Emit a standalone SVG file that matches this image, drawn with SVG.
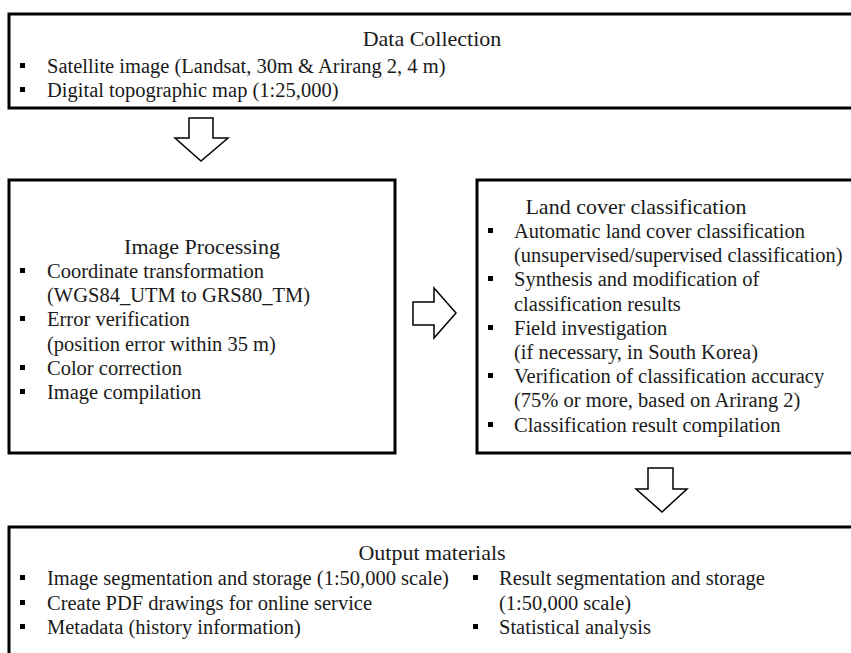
<svg xmlns="http://www.w3.org/2000/svg" width="851" height="653" viewBox="0 0 851 653">
<style>
.box{fill:#fff;stroke:#000;stroke-width:3}
.arr{fill:#fff;stroke:#000;stroke-width:1.5;stroke-linejoin:miter}
.t{font-size:22px;text-anchor:middle}
.b{font-size:20.5px}
.bl{fill:#000}
</style>
<defs><rect id="sq" width="5" height="5" class="bl"/></defs>
<rect width="851" height="653" fill="#fff"/>
<g id="connectors">
<path class="arr" d="M189,118 H213 V138 H228 L201,161 L175,138 H189 Z"/>
<path class="arr" d="M413,302 H434 V288 L456,313 L434,338 V325 H413 Z"/>
<path class="arr" d="M648,468 H673 V489 H687 L662,512 L636,489 H648 Z"/>
</g>
<g font-family="Liberation Serif, Times New Roman, DejaVu Serif, serif" fill="#1a1a1a">
<g id="data-collection">
<rect class="box" x="9" y="14" width="846" height="94"/>
<text class="t" x="432" y="46">Data Collection</text>
<use href="#sq" x="20" y="63"/><text class="b" x="47" y="73">Satellite image (Landsat, 30m &amp; Arirang 2, 4 m)</text>
<use href="#sq" x="20" y="87"/><text class="b" x="47" y="97">Digital topographic map (1:25,000)</text>
</g>
<g id="image-processing">
<rect class="box" x="9" y="180" width="386" height="273"/>
<text class="t" x="202" y="254">Image Processing</text>
<use href="#sq" x="20" y="268"/><text class="b" x="47" y="278">Coordinate transformation</text>
<text class="b" x="47" y="302">(WGS84_UTM to GRS80_TM)</text>
<use href="#sq" x="20" y="316"/><text class="b" x="47" y="326">Error verification</text>
<text class="b" x="47" y="351">(position error within 35 m)</text>
<use href="#sq" x="20" y="365"/><text class="b" x="47" y="375">Color correction</text>
<use href="#sq" x="20" y="389"/><text class="b" x="47" y="399">Image compilation</text>
</g>
<g id="land-cover">
<rect class="box" x="477" y="180" width="378" height="273"/>
<text class="t" x="636" y="214">Land cover classification</text>
<use href="#sq" x="488" y="228"/><text class="b" x="514" y="238">Automatic land cover classification</text>
<text class="b" x="514" y="262">(unsupervised/supervised classification)</text>
<use href="#sq" x="488" y="276"/><text class="b" x="514" y="286">Synthesis and modification of</text>
<text class="b" x="514" y="311">classification results</text>
<use href="#sq" x="488" y="325"/><text class="b" x="514" y="335">Field investigation</text>
<text class="b" x="514" y="359">(if necessary, in South Korea)</text>
<use href="#sq" x="488" y="373"/><text class="b" x="514" y="383">Verification of classification accuracy</text>
<text class="b" x="514" y="407">(75% or more, based on Arirang 2)</text>
<use href="#sq" x="488" y="422"/><text class="b" x="514" y="432">Classification result compilation</text>
</g>
<g id="output-materials">
<rect class="box" x="9" y="527" width="846" height="140"/>
<text class="t" x="432" y="560">Output materials</text>
<use href="#sq" x="20" y="575"/><text class="b" x="47" y="585">Image segmentation and storage (1:50,000 scale)</text>
<use href="#sq" x="20" y="600"/><text class="b" x="47" y="610">Create PDF drawings for online service</text>
<use href="#sq" x="20" y="624"/><text class="b" x="47" y="634">Metadata (history information)</text>
<use href="#sq" x="473" y="575"/><text class="b" x="499" y="585">Result segmentation and storage</text>
<text class="b" x="499" y="610">(1:50,000 scale)</text>
<use href="#sq" x="473" y="624"/><text class="b" x="499" y="634">Statistical analysis</text>
</g>
</g>
</svg>
